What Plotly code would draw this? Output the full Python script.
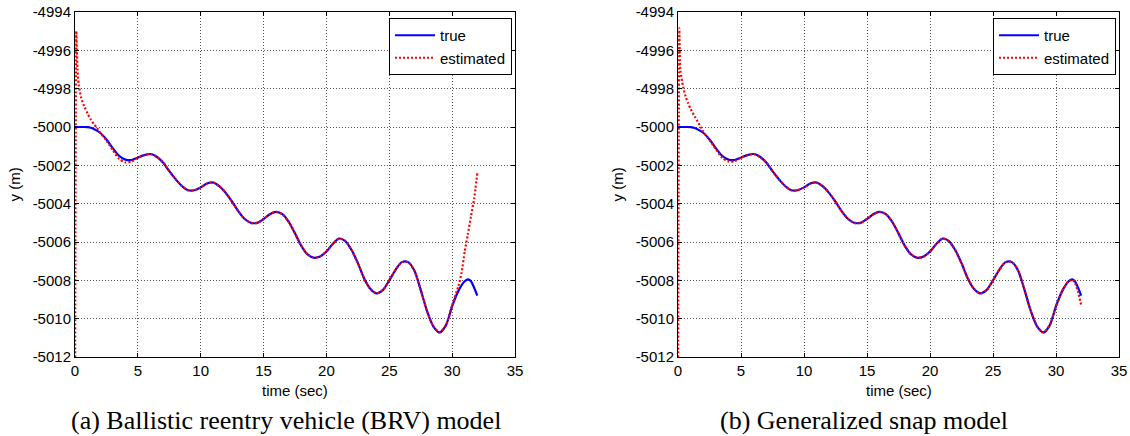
import plotly.graph_objects as go

# ---------------- data ----------------
t_true = [0, 0.5, 0.75, 1.0, 1.25, 1.5, 2.0, 2.5, 3.0, 3.5, 4.0, 4.5, 5.0, 5.5, 6.0, 6.5, 7.0, 7.5,
          8.0, 8.5, 9.0, 9.5, 10.0, 10.5, 11.0, 11.5, 12.0, 12.5, 13.0, 13.5, 14.0, 14.5,
          15.0, 15.5, 16.0, 16.5, 17.0, 17.5, 18.0, 18.5, 19.0, 19.5, 20.0, 20.5, 21.0,
          21.5, 22.0, 22.5, 23.0, 23.5, 24.0, 24.5, 25.0, 25.5, 26.0, 26.5, 27.0, 27.5,
          28.0, 28.5, 29.0, 29.5, 30.0, 30.5, 31.0, 31.3, 31.5, 32.0]
y_true = [-5000.0, -5000.0, -5000.0, -5000.01, -5000.04, -5000.1, -5000.3, -5000.65, -5001.1,
          -5001.5, -5001.7,
          -5001.72, -5001.6, -5001.47, -5001.41, -5001.55, -5001.85, -5002.3, -5002.72,
          -5003.08, -5003.3, -5003.3, -5003.15, -5002.95, -5002.9, -5003.1, -5003.45,
          -5003.9, -5004.4, -5004.8, -5005.0, -5005.0, -5004.8, -5004.55, -5004.43,
          -5004.55, -5004.95, -5005.55, -5006.2, -5006.65, -5006.82, -5006.75, -5006.5,
          -5006.1, -5005.82, -5005.95, -5006.42, -5007.1, -5007.9, -5008.45, -5008.68,
          -5008.5, -5008.0, -5007.45, -5007.05, -5007.05, -5007.5, -5008.5, -5009.6,
          -5010.4, -5010.72, -5010.35, -5009.35, -5008.55, -5008.05, -5007.95, -5008.05,
          -5008.8]

# (a) BRV model estimate
t_est_a = [0, 0.1, 0.15, 0.2, 0.3, 0.5, 0.75, 1.0, 1.25, 1.5, 1.75, 2.0, 2.5, 3.0, 3.5,
           4.0, 4.5, 5.0, 5.5, 6.0, 6.5, 7.0, 7.5, 8.0, 8.5, 9.0, 9.5, 10.0, 10.5, 11.0,
           11.5, 12.0, 12.5, 13.0, 13.5, 14.0, 14.5, 15.0, 15.5, 16.0, 16.5, 17.0, 17.5,
           18.0, 18.5, 19.0, 19.5, 20.0, 20.5, 21.0, 21.5, 22.0, 22.5, 23.0, 23.5, 24.0,
           24.5, 25.0, 25.5, 26.0, 26.5, 27.0, 27.5, 28.0, 28.5, 29.0, 29.5, 30.0, 30.5,
           30.75, 31.0, 31.25, 31.5, 31.75, 32.0]
y_est_a = [-5016.0, -4995.0, -4996.0, -4997.0, -4997.8, -4998.5, -4998.95, -4999.3,
           -4999.6, -4999.85, -5000.05, -5000.3, -5000.7, -5001.2, -5001.65, -5001.85,
           -5001.8, -5001.6, -5001.47, -5001.41, -5001.55, -5001.85, -5002.3, -5002.72,
           -5003.08, -5003.3, -5003.3, -5003.15, -5002.95, -5002.9, -5003.1, -5003.45,
           -5003.9, -5004.4, -5004.8, -5005.0, -5005.0, -5004.8, -5004.55, -5004.43,
           -5004.55, -5004.95, -5005.55, -5006.2, -5006.65, -5006.82, -5006.75, -5006.5,
           -5006.1, -5005.82, -5005.95, -5006.42, -5007.1, -5007.9, -5008.45, -5008.68,
           -5008.5, -5008.0, -5007.45, -5007.05, -5007.05, -5007.5, -5008.5, -5009.6,
           -5010.4, -5010.72, -5010.35, -5009.3, -5008.3, -5007.6, -5006.5, -5005.6,
           -5004.65, -5003.75, -5002.42]

# (b) Generalized snap model estimate
t_est_b = [0, 0.1, 0.15, 0.2, 0.4, 0.6, 0.8, 1.0, 1.33, 1.5, 1.86, 2.0, 2.5, 3.0, 3.5,
           4.0, 4.5, 5.0, 5.5, 6.0, 6.5, 7.0, 7.5, 8.0, 8.5, 9.0, 9.5, 10.0, 10.5, 11.0,
           11.5, 12.0, 12.5, 13.0, 13.5, 14.0, 14.5, 15.0, 15.5, 16.0, 16.5, 17.0, 17.5,
           18.0, 18.5, 19.0, 19.5, 20.0, 20.5, 21.0, 21.5, 22.0, 22.5, 23.0, 23.5, 24.0,
           24.5, 25.0, 25.5, 26.0, 26.5, 27.0, 27.5, 28.0, 28.5, 29.0, 29.5, 30.0, 30.5,
           31.0, 31.3, 31.5, 31.75, 32.0]
y_est_b = [-5016.0, -4994.85, -4996.5, -4997.1, -4997.9, -4998.4, -4998.76, -4999.05,
           -4999.46, -4999.65, -5000.07, -5000.25, -5000.68, -5001.15, -5001.6, -5001.8,
           -5001.78, -5001.6, -5001.47, -5001.41, -5001.55, -5001.85, -5002.3, -5002.72,
           -5003.08, -5003.3, -5003.3, -5003.15, -5002.95, -5002.9, -5003.1, -5003.45,
           -5003.9, -5004.4, -5004.8, -5005.0, -5005.0, -5004.8, -5004.55, -5004.43,
           -5004.55, -5004.95, -5005.55, -5006.2, -5006.65, -5006.82, -5006.75, -5006.5,
           -5006.1, -5005.82, -5005.95, -5006.42, -5007.1, -5007.9, -5008.45, -5008.68,
           -5008.5, -5008.0, -5007.45, -5007.05, -5007.05, -5007.5, -5008.5, -5009.6,
           -5010.4, -5010.72, -5010.35, -5009.35, -5008.55, -5008.05, -5007.97, -5008.12,
           -5008.6, -5009.3]

x_ticks = [0, 5, 10, 15, 20, 25, 30, 35]
y_ticks = [-5012, -5010, -5008, -5006, -5004, -5002, -5000, -4998, -4996, -4994]
y_tick_labels = [str(v) for v in y_ticks]
x_label = "time (sec)"
y_label = "y (m)"
captions = ["(a) Ballistic reentry vehicle (BRV) model", "(b) Generalized snap model"]
legend_names = ["true", "estimated"]

# ---------------- figure ----------------
W, H = 1130, 436
fig = go.Figure()

BLUE = "#0000FF"
RED = "#FF0000"

for i, (te, ye) in enumerate([(t_est_a, y_est_a), (t_est_b, y_est_b)]):
    xa = "x" if i == 0 else "x2"
    ya = "y" if i == 0 else "y2"
    lg = "legend" if i == 0 else "legend2"
    fig.add_trace(go.Scatter(x=t_true, y=y_true, mode="lines", name=legend_names[0],
                             line=dict(color=BLUE, width=2.2, shape="spline", smoothing=0.8),
                             xaxis=xa, yaxis=ya, legend=lg, cliponaxis=True))
    fig.add_trace(go.Scatter(x=te, y=ye, mode="lines", name=legend_names[1],
                             line=dict(color=RED, width=2.2, dash="2px,2px",
                                       shape="spline", smoothing=0.6),
                             xaxis=xa, yaxis=ya, legend=lg, cliponaxis=True))

px_l = [(75, 515), (678, 1119)]
cap_centers = [285.5, 863.5]
top_px, bot_px = 12, 357
ydom = [(H - bot_px) / H, (H - top_px) / H]

tickfont = dict(family="Liberation Sans, Arial, sans-serif", size=15, color="black")
grid = dict(showgrid=True, gridcolor="#555555", gridwidth=1, griddash="1px,2px")
common_x = dict(range=[0, 35], tickvals=x_ticks, ticks="inside", ticklen=4, tickcolor="black",
                showline=True, linecolor="black", linewidth=1, mirror="ticks",
                zeroline=False, tickfont=tickfont, fixedrange=True, automargin=False, **grid)
common_y = dict(range=[-5012, -4994], tickvals=y_ticks, ticktext=y_tick_labels,
                ticks="inside", ticklen=4, tickcolor="black",
                showline=True, linecolor="black", linewidth=1, mirror="ticks",
                zeroline=False, tickfont=tickfont, fixedrange=True, automargin=False, **grid)

fig.update_layout(
    width=W, height=H, margin=dict(l=0, r=0, t=0, b=0, pad=0), autosize=False,
    paper_bgcolor="white", plot_bgcolor="white",
    xaxis=dict(domain=[px_l[0][0] / W, px_l[0][1] / W], anchor="y", **common_x),
    yaxis=dict(domain=ydom, anchor="x", **common_y),
    xaxis2=dict(domain=[px_l[1][0] / W, px_l[1][1] / W], anchor="y2", **common_x),
    yaxis2=dict(domain=ydom, anchor="x2", **common_y),
    showlegend=True,
)

legfont = dict(family="Liberation Sans, Arial, sans-serif", size=15, color="black")
for name, (l, r) in zip(["legend", "legend2"], px_l):
    fig.update_layout({name: dict(x=(r - 3) / W, y=(H - 18) / H, xanchor="right", yanchor="top",
                                  xref="paper", yref="paper",
                                  bordercolor="black", borderwidth=1, bgcolor="white",
                                  font=legfont, tracegroupgap=0,
                                  itemwidth=40)})

annotations = []
for (l, r), cap, cc in zip(px_l, captions, cap_centers):
    cx = (l + r) / 2 / W
    annotations.append(dict(x=cx, y=(H - 390) / H, xref="paper", yref="paper",
                            text=x_label, showarrow=False, xanchor="center", yanchor="middle",
                            font=dict(family="Liberation Sans, Arial, sans-serif", size=15,
                                      color="black")))
    annotations.append(dict(x=(l - 61) / W, y=(H - (top_px + bot_px) / 2) / H,
                            xref="paper", yref="paper", text=y_label, textangle=-90,
                            showarrow=False, xanchor="center", yanchor="middle",
                            font=dict(family="Liberation Sans, Arial, sans-serif", size=15,
                                      color="black")))
    annotations.append(dict(x=cc / W, y=(H - 420) / H, xref="paper",
                            yref="paper", text=cap, showarrow=False, xanchor="center",
                            yanchor="middle",
                            font=dict(family="Liberation Serif, Times New Roman, serif",
                                      size=26, color="black")))
fig.update_layout(annotations=annotations)

fig.write_html("out.html")
